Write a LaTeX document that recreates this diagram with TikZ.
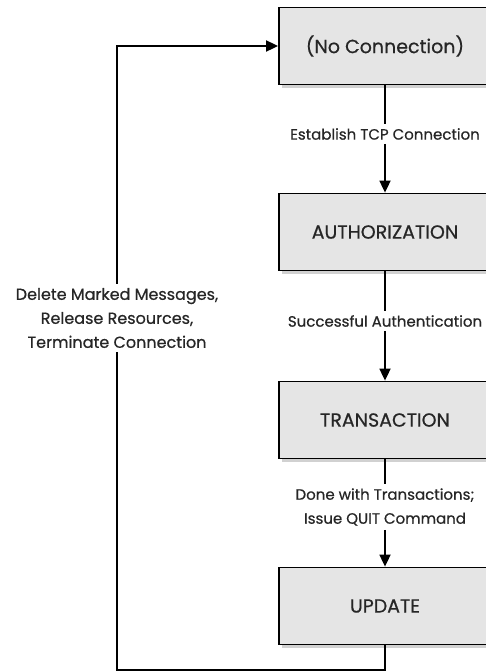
\documentclass[tikz,border=0pt]{standalone}
\usepackage{fontspec}
\setmainfont{Poppins}[FakeBold=0.6]
\usepackage{tikz}
\usetikzlibrary{arrows.meta,positioning,shadows}

\tikzset{
    statebox/.style={draw=black, line width=1.8pt, fill=gray!20, minimum width=212pt, minimum height=77pt, font=\fontsize{19}{24}\selectfont, text=black!85, drop shadow={shadow xshift=3pt, shadow yshift=-3pt, fill=gray!45, opacity=0.8}},
    steplabel/.style={font=\fontsize{15}{24}\selectfont, text=black!85, align=center, inner sep=4pt},
    flow/.style={line width=1.8pt, black},
    arr/.style={flow, -{Triangle[length=12pt,width=11pt]}}
}

\begin{document}
\begin{tikzpicture}[x=1pt, y=-1pt]
    \useasboundingbox (0,0) rectangle (486,672);

    % States
    \node[statebox] (nocon) at (385,46) {(No Connection)};
    \node[statebox] (auth) at (385,232) {AUTHORIZATION};
    \node[statebox] (trans) at (385,420) {TRANSACTION};
    \node[statebox] (update) at (385,606) {UPDATE};

    % Transition labels
    \node[steplabel] (estab) at (385,134) {Establish TCP Connection};
    \node[steplabel] (succ) at (385,321) {Successful Authentication};
    \node[steplabel] (done) at (385,507) {Done with Transactions;\\Issue QUIT Command};
    \node[steplabel, font=\fontsize{16}{24}\selectfont] (del) at (117,318) {Delete Marked Messages,\\Release Resources,\\Terminate Connection};

    % Arrows
    \draw[flow] (nocon) -- (estab);
    \draw[arr] (estab) -- (auth);
    \draw[flow] (auth) -- (succ);
    \draw[arr] (succ) -- (trans);
    \draw[flow] (trans) -- (done);
    \draw[arr] (done) -- (update);

    % Return path
    \coordinate (turn) at (117,670);
    \draw[flow] (update.south) |- (turn) -- (del.south);
    \draw[arr] (del.north) |- (nocon.west);
\end{tikzpicture}
\end{document}
